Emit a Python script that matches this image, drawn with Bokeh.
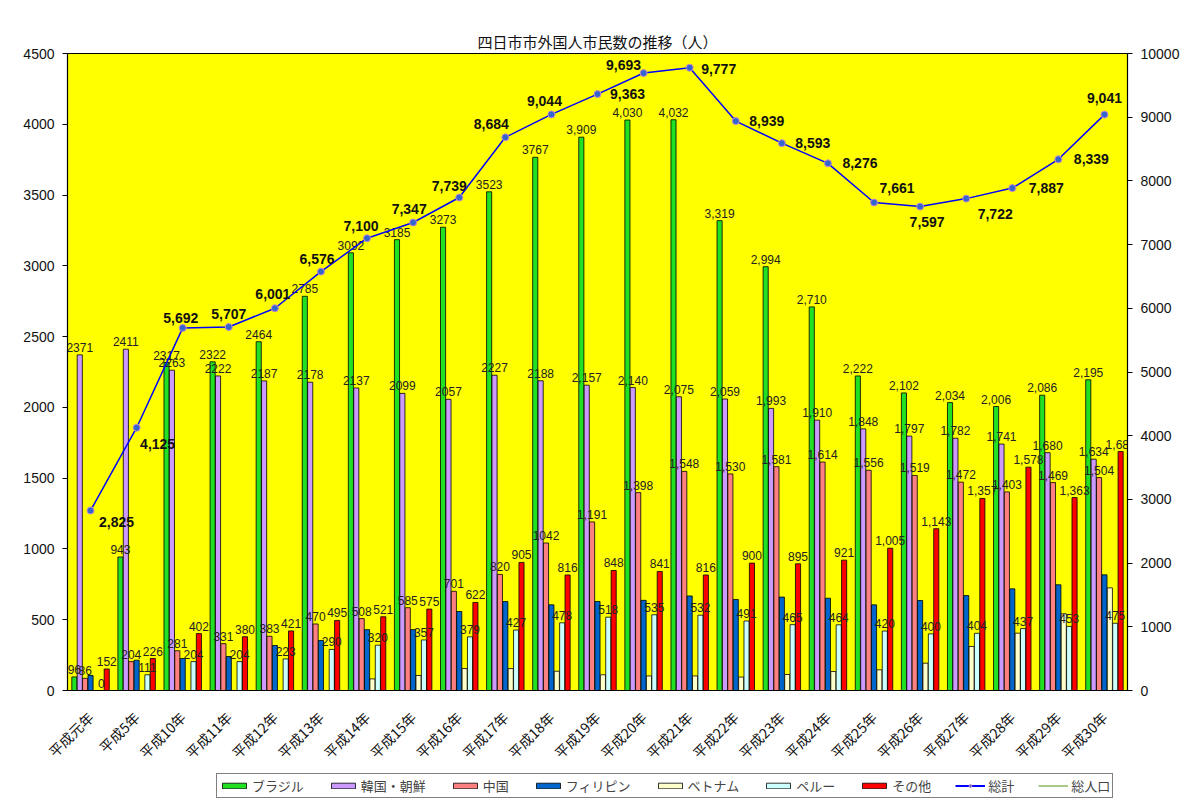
from bokeh.plotting import figure
from bokeh.layouts import column
from bokeh.models import (FactorRange, Range1d, LinearAxis, ColumnDataSource,
                          Legend, LegendItem, FixedTicker)
from bokeh.transform import dodge
from bokeh.core.properties import value
from bokeh.embed import file_html
from bokeh.resources import INLINE
import math

years = ["平成元年", "平成5年", "平成10年", "平成11年", "平成12年", "平成13年",
         "平成14年", "平成15年", "平成16年", "平成17年", "平成18年", "平成19年",
         "平成20年", "平成21年", "平成22年", "平成23年", "平成24年", "平成25年",
         "平成26年", "平成27年", "平成28年", "平成29年", "平成30年"]

brazil = [96, 943, 2317, 2322, 2464, 2785, 3092, 3185, 3273, 3523, 3767, 3909,
          4030, 4032, 3319, 2994, 2710, 2222, 2102, 2034, 2006, 2086, 2195]
korea = [2371, 2411, 2263, 2222, 2187, 2178, 2137, 2099, 2057, 2227, 2188, 2157,
         2140, 2075, 2059, 1993, 1910, 1848, 1797, 1782, 1741, 1680, 1634]
china = [86, 204, 281, 331, 383, 470, 508, 585, 701, 820, 1042, 1191,
         1398, 1548, 1530, 1581, 1614, 1556, 1519, 1472, 1403, 1469, 1504]
philippines = [106, 214, 226, 240, 318, 353, 430, 430, 558, 628, 605, 629,
               637, 668, 643, 660, 652, 605, 636, 671, 718, 747, 817]
vietnam = [0, 0, 0, 0, 0, 0, 82, 106, 155, 155, 136, 111,
           103, 103, 95, 113, 134, 146, 193, 311, 405, 542, 725]
peru = [0, 111, 204, 204, 223, 290, 320, 357, 379, 427, 478, 518,
        535, 532, 491, 465, 464, 420, 400, 404, 437, 453, 475]
other = [152, 226, 402, 380, 421, 495, 521, 575, 622, 905, 816, 848,
         841, 816, 900, 895, 921, 1005, 1143, 1357, 1578, 1363, 1688]
total = [2825, 4125, 5692, 5707, 6001, 6576, 7100, 7347, 7739, 8684, 9044, 9363,
         9693, 9777, 8939, 8593, 8276, 7661, 7597, 7722, 7887, 8339, 9041]

# label placement for the total line (screen px, styling only)
tot_dx = [26, 21, -2, 0, -2, -4, -6, -4, -10, -14, -7, 30,
          -20, 29, 31, 31, 32, 23, 7, 29, 34, 33, 0]
tot_dy = [11, 16, -10, -13, -14, -13, -12, -13, -12, -13, -13, 0,
          -8, 1, 0, 0, 0, -14, 15, 15, 0, 0, -17]


def fmt(v, i):
    return f"{v:,}" if i >= 11 else str(v)


data = dict(year=years, brazil=brazil, korea=korea, china=china,
            philippines=philippines, vietnam=vietnam, peru=peru, other=other,
            total=total, tot_dx=tot_dx, tot_dy=tot_dy,
            total_lbl=[f"{v:,}" for v in total])
for key in ["brazil", "korea", "china", "peru", "other"]:
    data[key + "_lbl"] = [fmt(v, i) for i, v in enumerate(data[key])]
src = ColumnDataSource(data)

p = figure(width=1190, height=772,
           x_range=FactorRange(factors=years, range_padding=0),
           y_range=Range1d(0, 4500),
           output_backend="svg", toolbar_location=None,
           min_border_left=67, min_border_right=63,
           min_border_top=53, min_border_bottom=82)

p.title.text = "四日市市外国人市民数の推移（人）"
p.title.align = "center"
p.title.text_font = "Noto Sans CJK JP"
p.title.text_font_size = "15px"
p.title.text_font_style = "normal"
p.title.text_color = "#111111"
p.title.standoff = 3

p.background_fill_color = "#FFFF00"
p.border_fill_color = "white"
p.outline_line_color = "black"
p.outline_line_width = 1.2
p.xgrid.grid_line_color = None
p.ygrid.grid_line_color = None

ly = p.yaxis[0]
ly.ticker = FixedTicker(ticks=list(range(0, 4501, 500)))
ly.major_label_text_font = "Liberation Sans"
ly.major_label_text_font_size = "14px"
ly.major_label_text_color = "#111111"
ly.major_tick_out = 5
ly.major_tick_in = 0
ly.minor_tick_line_color = None
ly.axis_line_color = "black"
ly.major_label_standoff = 8

p.extra_y_ranges = {"total": Range1d(0, 10000)}
ry = LinearAxis(y_range_name="total",
                ticker=FixedTicker(ticks=list(range(0, 10001, 1000))))
ry.major_label_text_font = "Liberation Sans"
ry.major_label_text_font_size = "14px"
ry.major_label_text_color = "#111111"
ry.major_tick_out = 5
ry.major_tick_in = 0
ry.minor_tick_line_color = None
ry.major_label_standoff = 8
p.add_layout(ry, "right")

xa = p.xaxis[0]
xa.major_label_orientation = math.pi / 4
xa.major_label_text_font = "Noto Sans CJK JP"
xa.major_label_text_font_size = "14px"
xa.major_label_text_color = "#111111"
xa.major_tick_line_color = None
xa.axis_line_color = "black"
xa.major_label_standoff = 18

series = [("brazil", "ブラジル", "#22E022"),
          ("korea", "韓国・朝鮮", "#CC99FF"),
          ("china", "中国", "#FF8080"),
          ("philippines", "フィリピン", "#0066CC"),
          ("vietnam", "ベトナム", "#FFFFCC"),
          ("peru", "ペルー", "#CCFFFF"),
          ("other", "その他", "#FF0000")]

step = 0.117
for k, (key, name, color) in enumerate(series):
    off = (k - 3) * step
    p.vbar(x=dodge("year", off, range=p.x_range), top=key, width=step * 0.95,
           source=src, fill_color=color, line_color="black", line_width=0.8)

for k, (key, name, color) in enumerate(series):
    if key in ("philippines", "vietnam"):
        continue
    off = (k - 3) * step
    p.text(x=dodge("year", off, range=p.x_range), y=key, text=key + "_lbl",
           source=src, text_align="center", text_baseline="bottom", y_offset=-3,
           text_font=value("Liberation Sans"), text_font_size="12px",
           text_color="#222222")

line_color = "#0000FF"
marker_fill = "#3366CC"
marker_line = "#CC88CC"
pop_color = "#A8CC88"

p.line(x="year", y="total", source=src, y_range_name="total",
       line_color=line_color, line_width=1.5)
p.scatter(x="year", y="total", source=src, y_range_name="total", size=7,
          fill_color=marker_fill, line_color=marker_line, line_width=1)
p.text(x="year", y="total", text="total_lbl", source=src, y_range_name="total",
       x_offset="tot_dx", y_offset="tot_dy", text_align="center",
       text_baseline="middle", text_font=value("Liberation Sans"),
       text_font_size="14px", text_font_style="bold", text_color="#111111")

# ---- legend strip (separate figure below the chart) ----
lf = figure(width=1190, height=32, x_range=Range1d(0, 1), y_range=Range1d(0, 1),
            output_backend="svg", toolbar_location=None, min_border=0)
lf.axis.visible = False
lf.grid.grid_line_color = None
lf.outline_line_color = None
lf.background_fill_color = "white"
lf.border_fill_color = "white"

nan = float("nan")
items = []
for key, name, color in series:
    r = lf.vbar(x=[nan], top=[nan], width=0.1, fill_color=color,
                line_color="black", line_width=0.8)
    items.append(LegendItem(label=name, renderers=[r]))
rl = lf.line(x=[nan], y=[nan], line_color=line_color, line_width=2)
rm = lf.scatter(x=[nan], y=[nan], size=7, fill_color=marker_fill,
                line_color=marker_line, line_width=1)
items.append(LegendItem(label="総計", renderers=[rl, rm]))
rp = lf.line(x=[nan], y=[nan], line_color=pop_color, line_width=2)
items.append(LegendItem(label="総人口", renderers=[rp]))

legend = Legend(items=items, orientation="horizontal", location=(149, 6),
                label_text_font="Noto Sans CJK JP", label_text_font_size="13px",
                glyph_width=30, glyph_height=7, label_standoff=3, spacing=24,
                padding=2, margin=0, label_height=16,
                border_line_color="black", border_line_width=1,
                background_fill_color="white", background_fill_alpha=1)
lf.add_layout(legend)

open("out.html", "w").write(file_html(column(p, lf, spacing=0), INLINE))
